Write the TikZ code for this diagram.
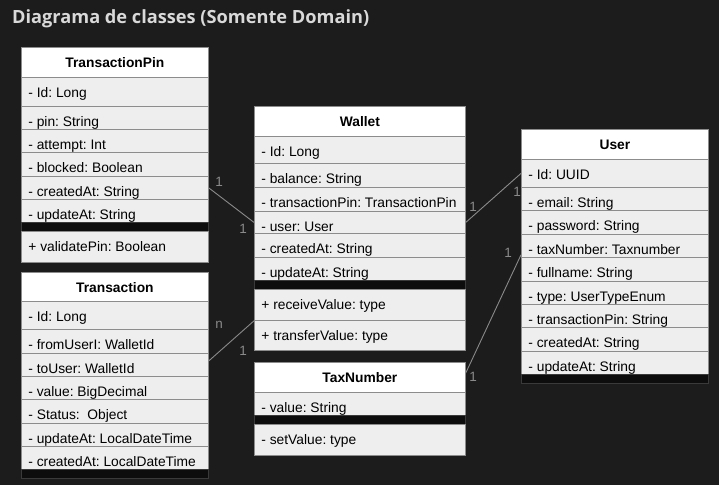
\documentclass[tikz,border=0pt]{standalone}
\usepackage{fontspec}
\setmainfont{Liberation Sans}
\newfontfamily\titlefont{Open Sans}
\definecolor{bgcol}{HTML}{1C1C1C}
\definecolor{titlecol}{HTML}{D9D9D9}
\definecolor{rowfill}{HTML}{EEEEEE}
\definecolor{rowline}{HTML}{8C8C8C}
\definecolor{conncol}{HTML}{8A8A8A}
\definecolor{sepfill}{HTML}{0D0D0D}
\definecolor{sepline}{HTML}{3A3A3A}
\newcommand\rowfont{\fontsize{13.8}{16}\selectfont\frenchspacing\hyphenpenalty=10000\hbadness=10000\hfuzz=50pt}
\newcommand\crow[6]{%
  \pgfmathsetmacro\cdep{#4-#3-20}%
  \pgfmathsetmacro\ctw{#5-14}%
  \node[cell, text width=\ctw pt, text depth=\cdep pt] (#1) at (#2,#3) {#6};}
\newcommand\chead[6]{%
  \pgfmathsetmacro\cdep{#4-#3-20}%
  \pgfmathsetmacro\ctw{#5-14}%
  \node[headcell, text width=\ctw pt, text depth=\cdep pt] (#1) at (#2,#3) {#6};}
\newcommand\csep[5]{%
  \pgfmathsetmacro\chgt{#4-#3}%
  \node[sepcell, minimum width=#5pt, minimum height=\chgt pt] (#1) at (#2,#3) {};}
\begin{document}
\begin{tikzpicture}[x=1pt,y=-1pt,
  cell/.style={draw=rowline, fill=rowfill, line width=0.8pt, anchor=north west,
    inner xsep=7pt, inner ysep=0pt, text height=20pt, align=flush left, font=\rowfont, text=black},
  headcell/.style={cell, fill=white, align=flush center, font=\rowfont\bfseries},
  sepcell/.style={draw=sepline, fill=sepfill, line width=0.8pt, anchor=north west, inner sep=0pt},
  conn/.style={draw=conncol, line width=0.9pt},
  mult/.style={text=conncol, font=\fontsize{13.5}{15}\selectfont, inner sep=0pt}]
\useasboundingbox (0,0) rectangle (719,485);
\fill[bgcol] (0,0) rectangle (719,485);
\node[anchor=base west, inner sep=0pt, text=titlecol, font=\titlefont\fontsize{18.2}{22}\selectfont\bfseries] (title) at (12,23) {Diagrama de classes (Somente Domain)};
% TransactionPin
\chead{tp-h}{21}{47}{77}{187}{TransactionPin}
\crow{tp-id}{21}{77}{106}{187}{- Id: Long}
\crow{tp-pin}{21}{106}{129}{187}{- pin: String}
\crow{tp-att}{21}{129}{152}{187}{- attempt: Int}
\crow{tp-blk}{21}{152}{176}{187}{- blocked: Boolean}
\crow{tp-cre}{21}{176}{199}{187}{- createdAt: String}
\crow{tp-upd}{21}{199}{222}{187}{- updateAt: String}
\csep{tp-sep}{21}{222}{231}{187}
\crow{tp-val}{21}{231}{262}{187}{+ validatePin: Boolean}
% Transaction
\chead{t-h}{21}{272}{301}{187}{Transaction}
\crow{t-id}{21}{301}{329}{187}{- Id: Long}
\crow{t-from}{21}{329}{353}{187}{- fromUserI: WalletId}
\crow{t-to}{21}{353}{376}{187}{- toUser: WalletId}
\crow{t-val}{21}{376}{399}{187}{- value: BigDecimal}
\crow{t-st}{21}{399}{423}{187}{- Status:\ \ Object}
\crow{t-upd}{21}{423}{446}{187}{- updateAt: LocalDateTime}
\crow{t-cre}{21}{446}{469}{187}{- createdAt: LocalDateTime}
\csep{t-sep}{21}{469}{478}{187}
% Wallet
\chead{w-h}{254}{106}{136}{211}{Wallet}
\crow{w-id}{254}{136}{163}{211}{- Id: Long}
\crow{w-bal}{254}{163}{187}{211}{- balance: String}
\crow{w-pin}{254}{187}{211}{211}{- transactionPin: TransactionPin}
\crow{w-user}{254}{211}{233}{211}{- user: User}
\crow{w-cre}{254}{233}{257}{211}{- createdAt: String}
\crow{w-upd}{254}{257}{280}{211}{- updateAt: String}
\csep{w-sep}{254}{280}{289}{211}
\crow{w-recv}{254}{289}{320}{211}{+ receiveValue: type}
\crow{w-trans}{254}{320}{350}{211}{+ transferValue: type}
% TaxNumber
\chead{x-h}{254}{362}{392}{211}{TaxNumber}
\crow{x-val}{254}{392}{415}{211}{- value: String}
\csep{x-sep}{254}{415}{424}{211}
\crow{x-set}{254}{424}{455}{211}{- setValue: type}
% User
\chead{u-h}{521}{129}{159}{187}{User}
\crow{u-id}{521}{159}{187}{187}{- Id: UUID}
\crow{u-em}{521}{187}{210}{187}{- email: String}
\crow{u-pw}{521}{210}{234}{187}{- password: String}
\crow{u-tax}{521}{234}{257}{187}{- taxNumber: Taxnumber}
\crow{u-full}{521}{257}{281}{187}{- fullname: String}
\crow{u-type}{521}{281}{304}{187}{- type: UserTypeEnum}
\crow{u-pin}{521}{304}{327}{187}{- transactionPin: String}
\crow{u-cre}{521}{327}{351}{187}{- createdAt: String}
\crow{u-upd}{521}{351}{374}{187}{- updateAt: String}
\csep{u-sep}{521}{374}{383}{187}
% connectors
\draw[conn] (tp-cre.east) -- (w-user.west);
\draw[conn] ([yshift=4pt]t-to.east) -- (w-recv.south west);
\draw[conn] (w-user.east) -- (u-id.west);
\draw[conn] ([yshift=4.5pt]x-h.east) -- ([yshift=3pt]u-tax.south west);
% multiplicities
\node[mult] (m1) at (219,182) {1};
\node[mult] (m2) at (243,229) {1};
\node[mult] (m3) at (219,325) {n};
\node[mult] (m4) at (243,351) {1};
\node[mult] (m5) at (473,207) {1};
\node[mult] (m6) at (517,192) {1};
\node[mult] (m7) at (508,253) {1};
\node[mult] (m8) at (473,377) {1};
\end{tikzpicture}
\end{document}
